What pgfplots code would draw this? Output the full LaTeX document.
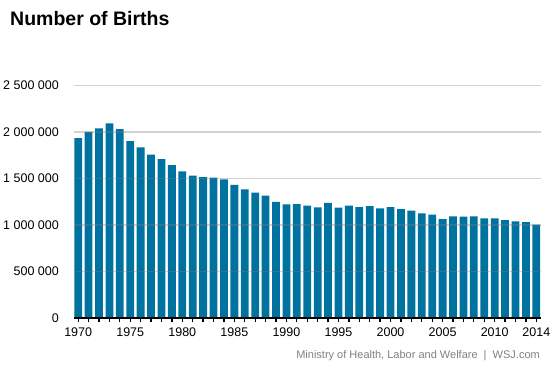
\documentclass[border=0pt]{standalone}
\usepackage{pgfplots}
\pgfplotsset{compat=1.18}
\usepackage{fontspec}
\setmainfont{Liberation Sans}
\definecolor{barblue}{RGB}{0,114,160}
\definecolor{srcgray}{RGB}{128,128,128}
\begin{document}
\begin{tikzpicture}
\useasboundingbox (0,0) rectangle (553bp,369bp);
\node[anchor=base west, inner sep=0pt, font=\fontsize{19.5bp}{23bp}\selectfont\bfseries] at (10bp,343bp) {Number of Births};
\node[anchor=base east, inner sep=0pt, text=srcgray, font=\fontsize{11bp}{13bp}\selectfont] at (540bp,11bp) {Ministry of Health, Labor and Welfare \ | \ WSJ.com};
\begin{axis}[
  at={(74bp,51bp)}, anchor=south west,
  scale only axis, width=467bp, height=232.6bp,
  xmin=1969.6, xmax=2014.45,
  ymin=0, ymax=2500000,
  axis x line*=bottom, axis y line*=left,
  x axis line style={black, line width=1.8bp, -},
  y axis line style={draw=none},
  xtick={1970,1975,1980,1985,1990,1995,2000,2005,2010,2014},
  xticklabels={1970,1975,1980,1985,1990,1995,2000,2005,2010,2014},
  minor xtick={1970,...,2014},
  xtick style={black, line width=1.3bp},
  minor x tick style={black, line width=1.3bp},
  tick align=outside,
  major tick length=4bp, minor tick length=4bp,
  ytick={0,500000,1000000,1500000,2000000,2500000},
  yticklabels={0,500 000,1 000 000,1 500 000,2 000 000,2 500 000},
  ytick style={draw=none},
  xticklabel style={inner sep=0pt, anchor=north, yshift=-6bp},
  yticklabel style={inner sep=0pt, anchor=east, xshift=-11bp},
  ticklabel style={font=\fontsize{12.5bp}{15bp}\selectfont},
  ymajorgrids,
  grid style={gray, line width=1.3bp, opacity=0.35},
  axis on top,
  scaled y ticks=false,
]
\addplot[ybar, bar width=7.8bp, fill=barblue, draw=none] coordinates {
(1970,1934239) (1971,2000973) (1972,2038682) (1973,2091983) (1974,2029989)
(1975,1901440) (1976,1832617) (1977,1755100) (1978,1708643) (1979,1642580)
(1980,1576889) (1981,1529455) (1982,1515392) (1983,1508687) (1984,1489780)
(1985,1431577) (1986,1382946) (1987,1346658) (1988,1314006) (1989,1246802)
(1990,1221585) (1991,1223245) (1992,1208989) (1993,1188282) (1994,1238328)
(1995,1187064) (1996,1206555) (1997,1191665) (1998,1203147) (1999,1177669)
(2000,1190547) (2001,1170662) (2002,1153855) (2003,1123610) (2004,1110721)
(2005,1062530) (2006,1092674) (2007,1089818) (2008,1091156) (2009,1070035)
(2010,1071304) (2011,1050806) (2012,1037231) (2013,1029816) (2014,1003539)
};
\end{axis}
\end{tikzpicture}
\end{document}
